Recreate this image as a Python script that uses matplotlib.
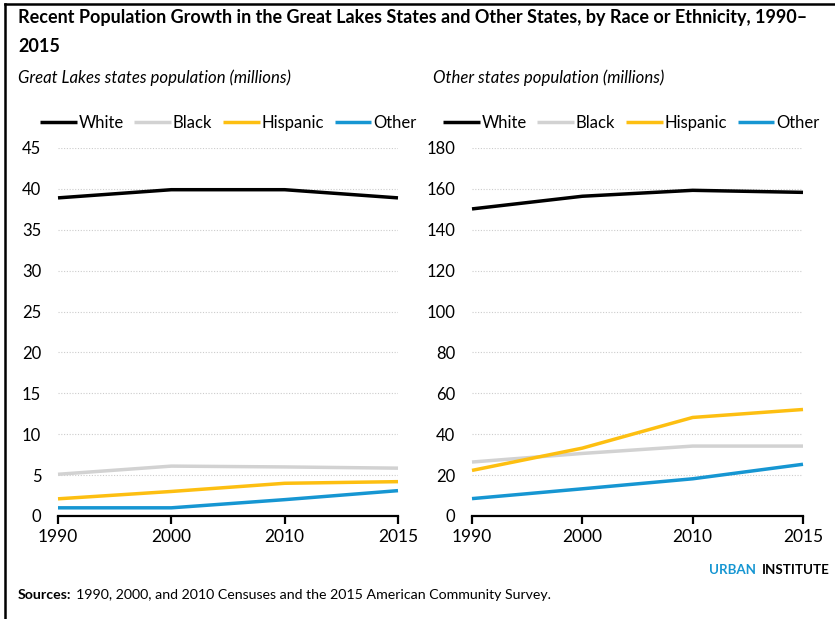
import matplotlib.pyplot as plt
from matplotlib.lines import Line2D

plt.rcParams['font.family'] = ['Lato', 'DejaVu Sans']

years = ['1990', '2000', '2010', '2015']
groups = ['White', 'Black', 'Hispanic', 'Other']
colors = ['#000000', '#d2d2d2', '#fdbf11', '#1696d2']

# population in millions
great_lakes = {
    'White': [38.9, 39.9, 39.9, 38.9],
    'Black': [5.1, 6.1, 6.0, 5.85],
    'Hispanic': [2.1, 3.0, 4.0, 4.2],
    'Other': [1.0, 1.0, 2.0, 3.1],
}
other_states = {
    'White': [150.2, 156.4, 159.3, 158.3],
    'Black': [26.4, 30.6, 34.2, 34.2],
    'Hispanic': [22.3, 33.2, 48.2, 52.1],
    'Other': [8.5, 13.3, 18.2, 25.3],
}

W, H = 835, 619
fig = plt.figure(figsize=(W / 100, H / 100), dpi=100)


def fx(px):
    return px / W


def fy(py):
    return 1 - py / H


def draw_panel(left, right, data, ymax, ystep, subtitle, sub_x, leg_x):
    ax = fig.add_axes([fx(left), fy(516), fx(right - left), fy(148) - fy(516)])
    x = range(len(years))
    for g, c in zip(groups, colors):
        ax.plot(x, data[g], color=c, lw=2.5, label=g, clip_on=False,
                solid_capstyle='butt', zorder=3)
    ax.set_xlim(0, len(years) - 1)
    ax.set_ylim(0, ymax)
    ax.set_xticks(list(x))
    ax.set_xticklabels(years)
    ax.set_yticks(range(0, ymax + 1, ystep))
    ax.grid(axis='y', color='#cccccc', ls=(0, (1, 1.5)), lw=0.8)
    ax.set_axisbelow(True)
    for s in ['left', 'right', 'top']:
        ax.spines[s].set_visible(False)
    ax.spines['bottom'].set_linewidth(1.6)
    ax.tick_params(axis='x', length=6, width=1.6, labelsize=12.5, pad=3)
    ax.tick_params(axis='y', length=0, labelsize=12, pad=12)
    fig.text(fx(sub_x), fy(78), subtitle, style='italic', fontsize=12.1,
             va='center', ha='left')
    ax.legend(loc='center left', bbox_to_anchor=(fx(leg_x), fy(123)),
              bbox_transform=fig.transFigure, ncol=4, frameon=False,
              fontsize=12, handlelength=2.2, handletextpad=0.1,
              columnspacing=0.65, borderpad=0, borderaxespad=0)
    return ax


ax1 = draw_panel(58, 398, great_lakes, 45, 5,
                 'Great Lakes states population (millions)', 18, 40)
draw_panel(472, 803, other_states, 180, 20,
           'Other states population (millions)', 433, 443)

fig.text(fx(18), fy(17),
         'Recent Population Growth in the Great Lakes States and Other States, '
         'by Race or Ethnicity, 1990\u2013',
         fontsize=13, fontweight='bold', va='center', ha='left')
fig.text(fx(18), fy(47), '2015', fontsize=13, fontweight='bold',
         va='center', ha='left')

src = fig.text(fx(18), fy(595), 'Sources:', fontsize=10.2, fontweight='bold',
               va='center', ha='left')
ax1.annotate('1990, 2000, and 2010 Censuses and the 2015 American Community Survey.',
             xy=(1, 0.5), xycoords=src, xytext=(3, 0), textcoords='offset points',
             fontsize=10.2, va='center', ha='left', annotation_clip=False)

fig.text(fx(709), fy(570), 'URBAN', fontsize=9.6, fontweight='bold',
         color='#1696d2', va='center', ha='left')
fig.text(fx(830), fy(570), 'INSTITUTE', fontsize=9.6, fontweight='bold',
         color='#000000', va='center', ha='right')

# frame along the top and left edges
fig.add_artist(Line2D([fx(5), fx(5)], [fy(4), 0], color='black', lw=1.8))
fig.add_artist(Line2D([fx(5), 1], [fy(4), fy(4)], color='black', lw=1.8))

fig.savefig('out.png', dpi=100)
